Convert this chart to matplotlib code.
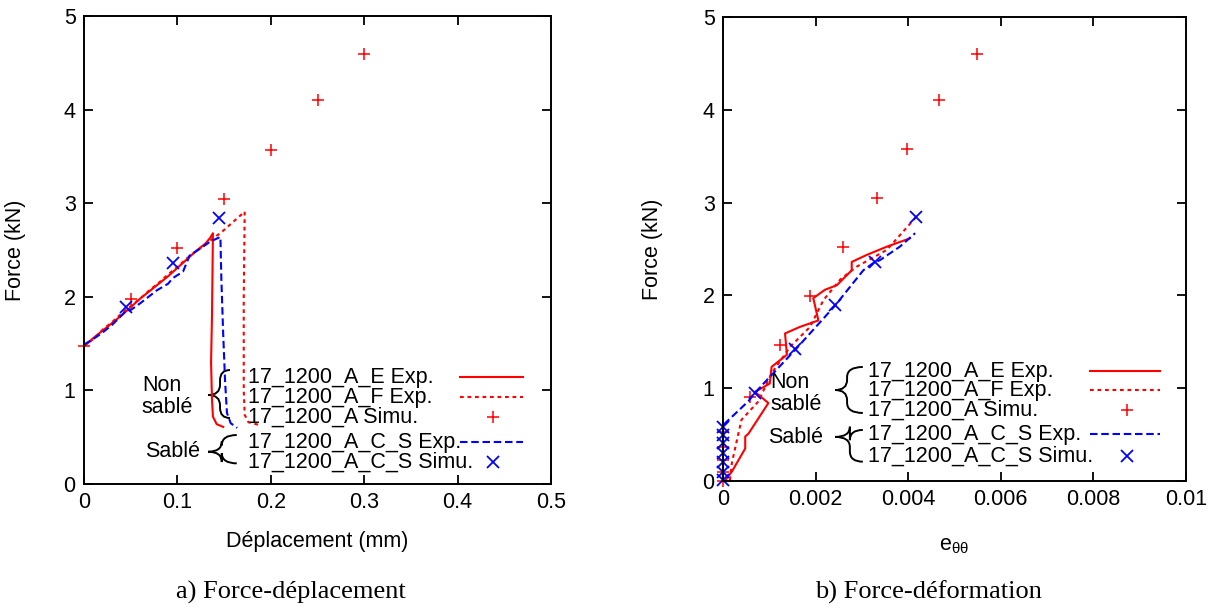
import matplotlib
matplotlib.use("Agg")
import matplotlib.pyplot as plt
from matplotlib.path import Path
from matplotlib.patches import PathPatch

plt.rcParams['font.family'] = ['Liberation Sans', 'DejaVu Sans']
plt.rcParams['mathtext.fontset'] = 'custom'
plt.rcParams['mathtext.rm'] = 'Liberation Sans'
plt.rcParams['mathtext.it'] = 'Liberation Sans'

# --- a) Force-déplacement ---
dep_E = [0, 0.01, 0.02, 0.03, 0.04, 0.05, 0.06, 0.07, 0.08, 0.09, 0.10, 0.11,
         0.12, 0.13, 0.135, 0.138, 0.137, 0.136, 0.137, 0.138, 0.142, 0.149]
force_dep_E = [1.47, 1.56, 1.64, 1.72, 1.80, 1.89, 1.98, 2.06, 2.14, 2.22, 2.31,
               2.40, 2.49, 2.57, 2.63, 2.68, 1.80, 1.30, 0.90, 0.72, 0.64, 0.61]

dep_F = [0, 0.01, 0.02, 0.03, 0.04, 0.05, 0.06, 0.07, 0.08, 0.09, 0.10, 0.11,
         0.12, 0.13, 0.14, 0.146, 0.172, 0.171, 0.171, 0.172, 0.176, 0.188]
force_dep_F = [1.47, 1.55, 1.65, 1.73, 1.82, 1.90, 1.98, 2.07, 2.15, 2.24, 2.32,
               2.41, 2.49, 2.56, 2.64, 2.68, 2.91, 2.00, 1.00, 0.74, 0.66, 0.63]

dep_CS = [0, 0.01, 0.02, 0.03, 0.044, 0.05, 0.06, 0.078, 0.09, 0.095, 0.106,
          0.113, 0.125, 0.135, 0.146, 0.147, 0.149, 0.151, 0.153, 0.157, 0.164]
force_dep_CS = [1.49, 1.55, 1.62, 1.70, 1.84, 1.86, 1.93, 2.07, 2.14, 2.20, 2.27,
                2.44, 2.52, 2.59, 2.64, 2.20, 1.60, 1.10, 0.76, 0.65, 0.60]

dep_sim_A = [0, 0.05, 0.10, 0.15, 0.20, 0.25, 0.30]
force_dep_sim_A = [1.47, 1.98, 2.52, 3.04, 3.57, 4.10, 4.59]

dep_sim_CS = [0.045, 0.095, 0.145]
force_dep_sim_CS = [1.89, 2.36, 2.84]

# --- b) Force-déformation ---
def_E = [0.00004, 0.00019, 0.00048, 0.00048, 0.00055, 0.00098, 0.00069, 0.00101,
         0.00105, 0.00138, 0.00134, 0.00166, 0.00206, 0.00195, 0.0022, 0.00246,
         0.00278, 0.00278, 0.0031, 0.00354, 0.00404]
force_def_E = [0.0, 0.10, 0.35, 0.48, 0.51, 0.84, 0.96, 1.05, 1.23, 1.36, 1.59,
               1.66, 1.73, 1.97, 2.06, 2.11, 2.27, 2.36, 2.435, 2.525, 2.615]

def_F = [0.00015, 0.00019, 0.0003, 0.0004, 0.00076, 0.00105, 0.00145, 0.00188,
         0.00217, 0.00253, 0.00289, 0.00354, 0.00418]
force_def_F = [0.01, 0.19, 0.44, 0.66, 0.855, 1.16, 1.447, 1.66, 1.95, 2.17,
               2.31, 2.49, 2.85]

def_CS = [0, 0, 0.00004, 0.00055, 0.00069, 0.00159, 0.00242, 0.00303, 0.00325,
          0.00339, 0.00382, 0.00415]
force_def_CS = [0, 0.55, 0.62, 0.86, 0.95, 1.43, 1.89, 2.27, 2.35, 2.38, 2.525, 2.67]

def_sim_A = [0, 0, 0, 0, 0, 0.00058, 0.00123, 0.00188, 0.0026, 0.00333, 0.00397,
             0.00467, 0.00549]
force_def_sim_A = [0, 0.10, 0.23, 0.37, 0.53, 0.91, 1.46, 1.99, 2.52, 3.05, 3.58,
                   4.10, 4.60]

def_sim_CS = [0, 0, 0, 0, 0, 0, 0, 0.00069, 0.00156, 0.00242, 0.00328, 0.00417]
force_def_sim_CS = [0.01, 0.10, 0.20, 0.30, 0.41, 0.50, 0.585, 0.945, 1.42, 1.90,
                    2.36, 2.84]

legend_labels = ["17_1200_A_E Exp.", "17_1200_A_F Exp.", "17_1200_A Simu.",
                 "17_1200_A_C_S Exp.", "17_1200_A_C_S Simu."]
ticks_dep = [0, 0.1, 0.2, 0.3, 0.4, 0.5]
ticks_def = [0, 0.002, 0.004, 0.006, 0.008, 0.01]
ticklabels_def = ["0", "0.002", "0.004", "0.006", "0.008", "0.01"]
ticks_force = [0, 1, 2, 3, 4, 5]

RED = "#ff0000"
BLUE = "#0000ff"
FS = 15.5
LW = 1.5

styles = [
    dict(color=RED, lw=LW, ls="-"),
    dict(color=RED, lw=LW, ls=(0, (1.8, 1.8))),
    dict(color=RED, ls="none", marker="+", ms=9, mew=1.1),
    dict(color=BLUE, lw=LW, ls=(0, (3.6, 1.8))),
    dict(color=BLUE, ls="none", marker="x", ms=8, mew=1.3),
]


def brace(ax, x_tip, x_mid, x_end, y_bot, y_top, y_tip, r=0.022):
    # accolade dessinée en coordonnées d'axes
    verts = [(x_end, y_top), (x_mid, y_top), (x_mid, y_top - r),
             (x_mid, y_tip + r), (x_mid, y_tip), (x_tip, y_tip),
             (x_mid, y_tip), (x_mid, y_tip - r),
             (x_mid, y_bot + r), (x_mid, y_bot), (x_end, y_bot)]
    codes = [Path.MOVETO, Path.CURVE3, Path.CURVE3,
             Path.LINETO, Path.CURVE3, Path.CURVE3,
             Path.CURVE3, Path.CURVE3,
             Path.LINETO, Path.CURVE3, Path.CURVE3]
    ax.add_patch(PathPatch(Path(verts, codes), transform=ax.transAxes,
                           fc="none", ec="black", lw=1.4, clip_on=False))


def setup_axes(ax, xlim, xticks, xticklabels, xlabel, xlabel_y, ylabel_x):
    ax.set_xlim(*xlim)
    ax.set_ylim(0, 5)
    ax.set_xticks(xticks)
    ax.set_xticklabels(xticklabels)
    ax.set_yticks(ticks_force)
    ax.set_yticklabels([str(t) for t in ticks_force])
    ax.tick_params(direction="in", length=6.5, width=1.3, top=True, right=True,
                   labelsize=FS, pad=6)
    for sp in ax.spines.values():
        sp.set_linewidth(1.4)
    ax.set_xlabel(xlabel, fontsize=FS)
    ax.set_ylabel("Force (kN)", fontsize=FS)
    ax.xaxis.set_label_coords(0.5, xlabel_y)
    ax.yaxis.set_label_coords(ylabel_x, 0.5)


def legend_block(ax, text_x, rows, line_x0, line_x1, marker_x,
                 non_pos, sable_pos, brace_non, brace_sable):
    for lab, y, st in zip(legend_labels, rows, styles):
        ax.text(text_x, y, lab, transform=ax.transAxes, fontsize=FS,
                ha="left", va="center")
        if st.get("marker"):
            ax.plot([marker_x], [y], transform=ax.transAxes, clip_on=False, **st)
        else:
            ax.plot([line_x0, line_x1], [y, y], transform=ax.transAxes,
                    clip_on=False, **st)
    ax.text(non_pos[0], non_pos[1], "Non\nsablé", transform=ax.transAxes,
            fontsize=FS, ha="left", va="center", linespacing=1.05)
    ax.text(sable_pos[0], sable_pos[1], "Sablé", transform=ax.transAxes,
            fontsize=FS, ha="left", va="center")
    brace(ax, *brace_non)
    brace(ax, *brace_sable)


fig = plt.figure(figsize=(12.18, 6.08), dpi=100)
ax1 = fig.add_axes([0.0690, 0.2039, 0.3834, 0.7697])
ax2 = fig.add_axes([0.5936, 0.2089, 0.3801, 0.7632])

# panneau a)
ax1.plot(dep_E, force_dep_E, **styles[0])
ax1.plot(dep_F, force_dep_F, **styles[1])
ax1.plot(dep_sim_A, force_dep_sim_A, clip_on=False, **styles[2])
ax1.plot(dep_CS, force_dep_CS, **styles[3])
ax1.plot(dep_sim_CS, force_dep_sim_CS, clip_on=False, **styles[4])
setup_axes(ax1, (0, 0.5), ticks_dep, [f"{t:g}" for t in ticks_dep],
           "Déplacement (mm)", -0.100, -0.124)
legend_block(ax1, 0.351, [0.2286, 0.1859, 0.1432, 0.0897, 0.047],
             0.805, 0.940, 0.876,
             (0.124, 0.187), (0.131, 0.069),
             (0.2655, 0.2912, 0.3126, 0.141, 0.2436, 0.1902),
             (0.266, 0.295, 0.327, 0.0442, 0.1047, 0.069))

# panneau b)
ax2.plot(def_E, force_def_E, **styles[0])
ax2.plot(def_F, force_def_F, **styles[1])
ax2.plot(def_sim_A, force_def_sim_A, clip_on=False, **styles[2])
ax2.plot(def_CS, force_def_CS, **styles[3])
ax2.plot(def_sim_CS, force_def_sim_CS, clip_on=False, **styles[4])
setup_axes(ax2, (0, 0.01), ticks_def, ticklabels_def,
           r"$\mathregular{e_{θθ}}$", -0.116, -0.130)
legend_block(ax2, 0.313, [0.237, 0.196, 0.153, 0.101, 0.054],
             0.7927, 0.944, 0.8726,
             (0.1015, 0.189), (0.097, 0.093),
             (0.242, 0.268, 0.302, 0.1466, 0.2457, 0.196),
             (0.242, 0.274, 0.302, 0.0416, 0.11, 0.095))

fig.text(0.239, 1 - 592 / 608, "a) Force-déplacement", family="Liberation Serif",
         fontsize=19, ha="center", va="center")
fig.text(0.762, 1 - 592 / 608, "b) Force-déformation", family="Liberation Serif",
         fontsize=19, ha="center", va="center")

fig.savefig("out.png", dpi=100)
